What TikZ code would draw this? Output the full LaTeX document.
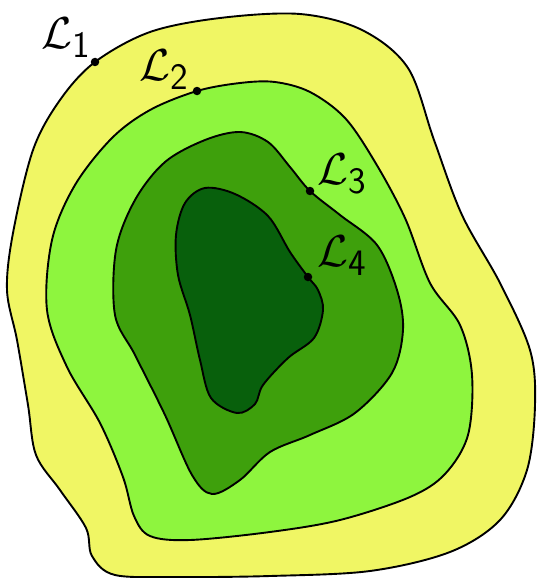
\documentclass[tikz,border=0pt]{standalone}
\begin{document}
\begin{tikzpicture}[x=1pt,y=-1pt,
  contour/.style={draw=black,line width=1.9pt,line join=round},
  pin/.style={circle,fill=black,inner sep=0pt,minimum size=8.5pt},
  lab/.style={font=\Huge,scale=1.8,inner sep=0pt}]
\definecolor{cyellow}{RGB}{240,246,100}
\definecolor{clight}{RGB}{142,245,62}
\definecolor{cmid}{RGB}{62,160,12}
\definecolor{cdark}{RGB}{8,96,12}
\useasboundingbox (0,0) rectangle (538,578);
% L1
\path[contour,fill=cyellow] plot[smooth cycle,tension=0.55] coordinates {
 (95,62) (150,32) (220,18) (300,14) (362,30) (408,68) (434,140)
 (462,215) (500,283) (530,350) (535,405) (527,470) (500,520) (450,552)
 (370,571) (270,576) (180,577) (115,575) (92,556) (86,528) (60,490)
 (36,455) (28,405) (17,340) (7,290) (13,233) (33,150) (60,100)};
% L2
\path[contour,fill=clight] plot[smooth cycle,tension=0.55] coordinates {
 (197,91) (240,83) (275,82) (310,92) (345,118) (375,162) (405,218) (430,283)
 (460,325) (472,375) (468,435) (445,474) (410,497) (340,520)
 (270,532) (190,540) (150,536) (134,516) (123,477) (100,423) (67,367)
 (47,310) (52,240) (75,185) (112,138) (150,110)};
% L3
\path[contour,fill=cmid] plot[smooth cycle,tension=0.55] coordinates {
 (310,191) (290,167) (268,142) (240,132) (205,140) (165,162) (135,200)
 (116,250) (115,315) (135,355) (165,415) (192,475) (212,494) (240,480)
 (270,452) (310,435) (355,413) (392,373) (403,330) (397,290) (377,245) (340,215)};
% L4
\path[contour,fill=cdark] plot[smooth cycle,tension=0.55] coordinates {
 (308,277) (290,252) (268,216) (235,194) (205,188) (185,203) (176,235)
 (178,275) (190,315) (200,360) (211,398) (237,413) (255,404) (263,385)
 (288,358) (314,338) (323,310) (318,290)};
% points
\node[pin] (p1) at (95,62) {};
\node[pin] (p2) at (197,91) {};
\node[pin] (p3) at (310,191) {};
\node[pin] (p4) at (308,277) {};
% labels
\node[lab] (l1) at (66,38) {$\mathcal{L}_{\mathsf{1}}$};
\node[lab] (l2) at (164,70) {$\mathcal{L}_{\mathsf{2}}$};
\node[lab] (l3) at (342,174) {$\mathcal{L}_{\mathsf{3}}$};
\node[lab] (l4) at (342,256) {$\mathcal{L}_{\mathsf{4}}$};
\end{tikzpicture}
\end{document}
